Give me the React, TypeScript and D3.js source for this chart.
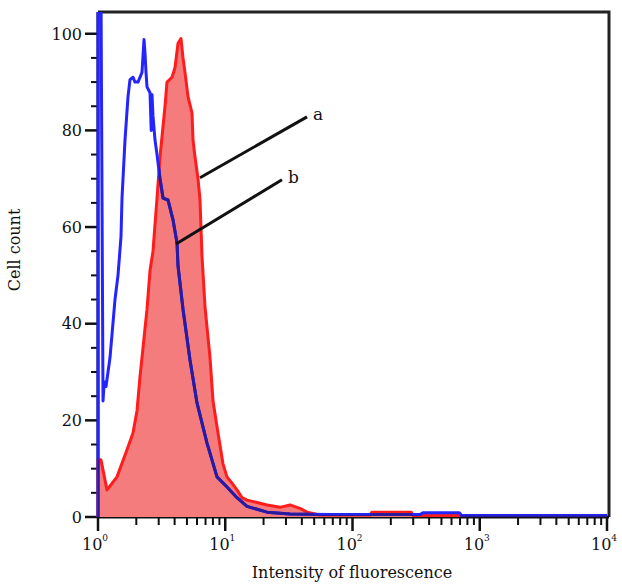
import React, { useEffect, useRef } from 'react';
import * as d3 from 'd3';

// blue histogram (unstained / control), intensity vs cell count
const blueX = [1.0, 1.0, 1.056, 1.095, 1.12, 1.156, 1.243, 1.36, 1.436, 1.516, 1.544, 1.63, 1.721, 1.784, 1.884, 1.953, 2.063, 2.217, 2.299, 2.341, 2.384, 2.427, 2.563, 2.62, 2.657, 2.705, 2.805, 2.909, 3.071, 3.243, 3.549, 3.885, 4.177, 4.253, 4.656, 5.284, 5.998, 7.188, 8.614, 10.32, 12.37, 14.83, 21.29, 32.27, 66.56, 164.5, 339.3, 360, 690, 720, 10000];
const blueY = [0, 108, 108, 24, 28, 27, 33, 45, 50, 58, 66, 78, 87, 90.5, 91, 90, 90, 92, 98.8, 96, 92, 89, 87.8, 80, 87.4, 83, 78, 75, 70, 66, 65.6, 61.5, 56.7, 52, 43, 32.5, 23.6, 15.3, 8.3, 6.2, 4, 2.2, 1, 0.6, 0.5, 0.5, 0.5, 0.9, 0.9, 0.3, 0.3];

// red histogram (stained), filled
const redX = [1.0, 1.0, 1.056, 1.177, 1.41, 1.69, 1.884, 2.025, 2.138, 2.258, 2.427, 2.563, 2.705, 2.909, 3.071, 3.362, 3.485, 3.815, 4.029, 4.253, 4.49, 4.656, 4.827, 5.096, 5.48, 5.58, 5.785, 6.107, 6.333, 6.566, 6.933, 7.59, 8.013, 8.77, 9.6, 10.32, 11.3, 12.37, 13.54, 14.83, 17.77, 21.29, 26.94, 32.27, 38.68, 43.9, 55.5, 137.3, 142, 290, 299, 10000];
const redY = [0, 12, 11.8, 5.6, 8.3, 13.9, 17.4, 22, 29, 35, 43, 51, 55, 66, 74.5, 85, 90, 91, 93, 98, 99, 95, 92, 87, 83.6, 78, 74.5, 70, 65.6, 54, 43.5, 33, 24, 17.4, 11, 8.3, 7, 5.6, 4, 3.5, 3, 2.5, 2, 2.5, 1.8, 1, 0.4, 0.4, 1, 1, 0.3, 0.3];

const yTicks = [0, 20, 40, 60, 80, 100];
const xDecades = [0, 1, 2, 3, 4];

// callout labels: [label, fromX, fromY, toX, toY]
const callouts: [string, number, number, number, number][] = [
  ['a', 6.33, 70.2, 43.9, 82.8],
  ['b', 4.1, 56.5, 27.9, 69.8],
];

const App = () => {
  const ref = useRef<SVGSVGElement>(null);

  useEffect(() => {
    const svg = d3.select(ref.current);
    svg.selectAll('*').remove();

    const left = 98, right = 607, top = 12, bottom = 517;
    const font = '"DejaVu Serif", serif';

    const x = d3.scaleLog().domain([1, 10000]).range([left, right]);
    const y = d3.scaleLinear().domain([0, 104.5]).range([bottom, top]);

    // frame top and right
    svg.append('path')
      .attr('d', `M${left},${top}H${right + 2}V${bottom}`)
      .attr('fill', 'none').attr('stroke', '#222').attr('stroke-width', 3);

    // y axis
    const yAxis = svg.append('g');
    d3.range(0, 101, 5).forEach(v => {
      const major = v % 20 === 0;
      yAxis.append('line')
        .attr('x1', left - (major ? 13 : 7)).attr('x2', left)
        .attr('y1', y(v)).attr('y2', y(v))
        .attr('stroke', '#111').attr('stroke-width', major ? 2.5 : 2);
    });
    yAxis.selectAll('text.tick').data(yTicks).enter().append('text')
      .attr('x', left - 16).attr('y', d => y(d)).attr('dy', '0.36em')
      .attr('text-anchor', 'end').attr('font-family', font).attr('font-size', 16)
      .attr('fill', '#111').text(d => d);
    yAxis.append('line').attr('x1', left).attr('x2', left).attr('y1', top).attr('y2', bottom + 1)
      .attr('stroke', '#111').attr('stroke-width', 3);

    // x axis with log minor ticks
    const xAxis = svg.append('g');
    xDecades.forEach(dec => {
      for (let m = 1; m < 10; m++) {
        if (dec === 4 && m > 1) break;
        const v = m * Math.pow(10, dec);
        const major = m === 1;
        xAxis.append('line')
          .attr('x1', x(v)).attr('x2', x(v))
          .attr('y1', bottom).attr('y2', bottom + (major ? 14 : 8))
          .attr('stroke', '#111').attr('stroke-width', major ? 2.5 : 2);
      }
      const t = xAxis.append('text')
        .attr('x', x(Math.pow(10, dec)) - 3).attr('y', bottom + 33)
        .attr('text-anchor', 'middle').attr('font-family', font).attr('font-size', 16).attr('fill', '#111');
      t.append('tspan').text('10');
      t.append('tspan').attr('font-size', 9).attr('dy', -9).text(dec);
    });
    xAxis.append('line').attr('x1', left - 1).attr('x2', right + 2).attr('y1', bottom).attr('y2', bottom)
      .attr('stroke', '#111').attr('stroke-width', 3);

    // histograms on top of the axes
    const redData = redX.map((v, i) => [v, redY[i]] as [number, number]);
    const blueData = blueX.map((v, i) => [v, blueY[i]] as [number, number]);

    const area = d3.area<[number, number]>().x(d => x(d[0])).y0(y(0)).y1(d => y(d[1]));
    const line = d3.line<[number, number]>().x(d => x(d[0])).y(d => y(d[1]));

    const defs = svg.append('defs');
    defs.append('clipPath').attr('id', 'plotclip')
      .append('rect').attr('x', left - 2).attr('y', top).attr('width', right - left + 4).attr('height', bottom - top + 2);
    defs.append('clipPath').attr('id', 'redclip')
      .append('path').datum(redData).attr('d', area);

    const plot = svg.append('g').attr('clip-path', 'url(#plotclip)');

    plot.append('path').datum(redData).attr('d', area).attr('fill', '#f47c7c');
    plot.append('path').datum(redData).attr('d', line)
      .attr('fill', 'none').attr('stroke', '#ff1c1c').attr('stroke-width', 3).attr('stroke-linejoin', 'round');
    plot.append('path').datum(blueData).attr('d', line)
      .attr('fill', 'none').attr('stroke', '#2424ff').attr('stroke-width', 3).attr('stroke-linejoin', 'round');
    // where the blue trace runs over the red fill it reads as dark navy
    plot.append('g').attr('clip-path', 'url(#redclip)')
      .append('path').datum(blueData).attr('d', line)
      .attr('fill', 'none').attr('stroke', '#2a1a9c').attr('stroke-width', 3).attr('stroke-linejoin', 'round');

    // callouts
    callouts.forEach(([label, x0, y0, x1, y1]) => {
      svg.append('line')
        .attr('x1', x(x0)).attr('y1', y(y0)).attr('x2', x(x1)).attr('y2', y(y1))
        .attr('stroke', '#111').attr('stroke-width', 3);
      svg.append('text')
        .attr('x', x(x1) + 6).attr('y', y(y1) + 3)
        .attr('font-family', font).attr('font-size', 17).attr('fill', '#111').text(label);
    });

    // axis titles
    svg.append('text')
      .attr('transform', `translate(20, 250) rotate(-90)`)
      .attr('text-anchor', 'middle').attr('font-family', font).attr('font-size', 16)
      .attr('fill', '#111').text('Cell count');
    svg.append('text')
      .attr('x', 352).attr('y', 578)
      .attr('text-anchor', 'middle').attr('font-family', font).attr('font-size', 16)
      .attr('fill', '#111').text('Intensity of fluorescence');
  }, []);

  return (
    <svg ref={ref} width={622} height={587} style={{ display: 'block', position: 'absolute', left: 0, top: 0, background: '#fff' }} />
  );
};

export default App;
